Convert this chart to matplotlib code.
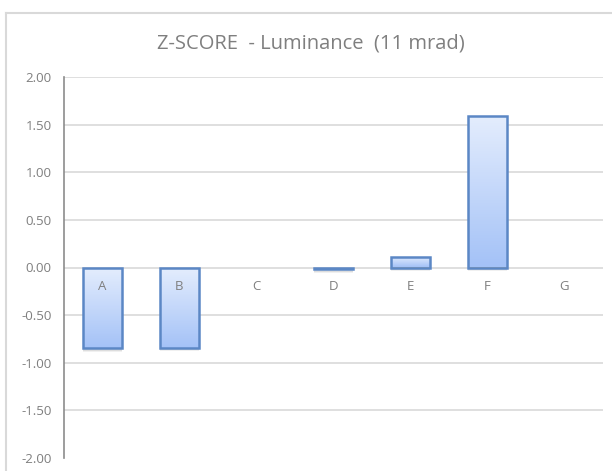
import numpy as np
import matplotlib
matplotlib.use("Agg")
import matplotlib.pyplot as plt
import matplotlib.patches as mpatches
from matplotlib.lines import Line2D
from matplotlib.colors import LinearSegmentedColormap

categories = ["A", "B", "C", "D", "E", "F", "G"]
zscores = [-0.85, -0.84, 0.0, -0.02, 0.11, 1.59, 0.0]
yticks = [-2.0, -1.5, -1.0, -0.5, 0.0, 0.5, 1.0, 1.5, 2.0]

W, H = 612, 471
fig = plt.figure(figsize=(W / 100, H / 100), dpi=100)
plt.rcParams['font.family'] = ['Open Sans', 'DejaVu Sans']

# chart frame: only top and left edges are visible in the screenshot
fy = 1 - 12.5 / H
fx = 5.5 / W
fig.lines.append(Line2D([fx, 1], [fy, fy], transform=fig.transFigure,
                        color="#d9d9d9", lw=1.5))
fig.lines.append(Line2D([fx, fx], [0, fy], transform=fig.transFigure,
                        color="#d9d9d9", lw=1.5))

ax = fig.add_axes([64 / W, 13 / H, (603 - 64) / W, (458 - 77) / H])
x = np.arange(len(categories))

for t in yticks:
    if t != -2.0:
        ax.axhline(t, color="#d9d9d9", lw=1.2, zorder=0)

grad = LinearSegmentedColormap.from_list("g", ["#a4c2f7", "#e4edfd"])
bw = 0.5
for xi, v in zip(x, zscores):
    if v == 0:
        continue
    y0, y1 = min(0, v), max(0, v)
    # soft shadow
    for k, a in [(0.035, 0.06), (0.022, 0.08), (0.01, 0.1)]:
        ax.add_patch(mpatches.Rectangle((xi - bw / 2 - k / 4, y0 - k), bw + k / 2, y1 - y0,
                                        fc="#000000", alpha=a, ec="none", zorder=1))
    rect = mpatches.Rectangle((xi - bw / 2, y0), bw, y1 - y0, fc="none",
                              ec="#5b87c5", lw=1.8, zorder=3)
    ax.add_patch(rect)
    img = ax.imshow(np.linspace(0, 1, 100).reshape(-1, 1), cmap=grad,
                    aspect="auto", origin="lower",
                    extent=(xi - bw / 2, xi + bw / 2, y0, y1), zorder=2)
    img.set_clip_path(rect)

ax.set_xlim(-0.5, len(categories) - 0.5)
ax.set_ylim(-2, 2)

for xi, c in zip(x, categories):
    ax.text(xi, -0.2, c, ha="center", va="center", color="#7f7f7f", fontsize=9.5)

ax.set_yticks(yticks)
ax.set_yticklabels(["%.2f" % t for t in yticks])
ax.tick_params(axis="y", length=0, pad=9, labelcolor="#7f7f7f", labelsize=9.5)
ax.set_xticks([])
for s in ["top", "right", "bottom"]:
    ax.spines[s].set_visible(False)
ax.spines["left"].set_color("#8c8c8c")
ax.spines["left"].set_linewidth(1.2)

fig.text(311 / W, 1 - 43 / H, "Z-SCORE  - Luminance  (11 mrad)",
         ha="center", va="center", color="#7f7f7f", fontsize=14.5)

fig.savefig("out.png", dpi=100)
